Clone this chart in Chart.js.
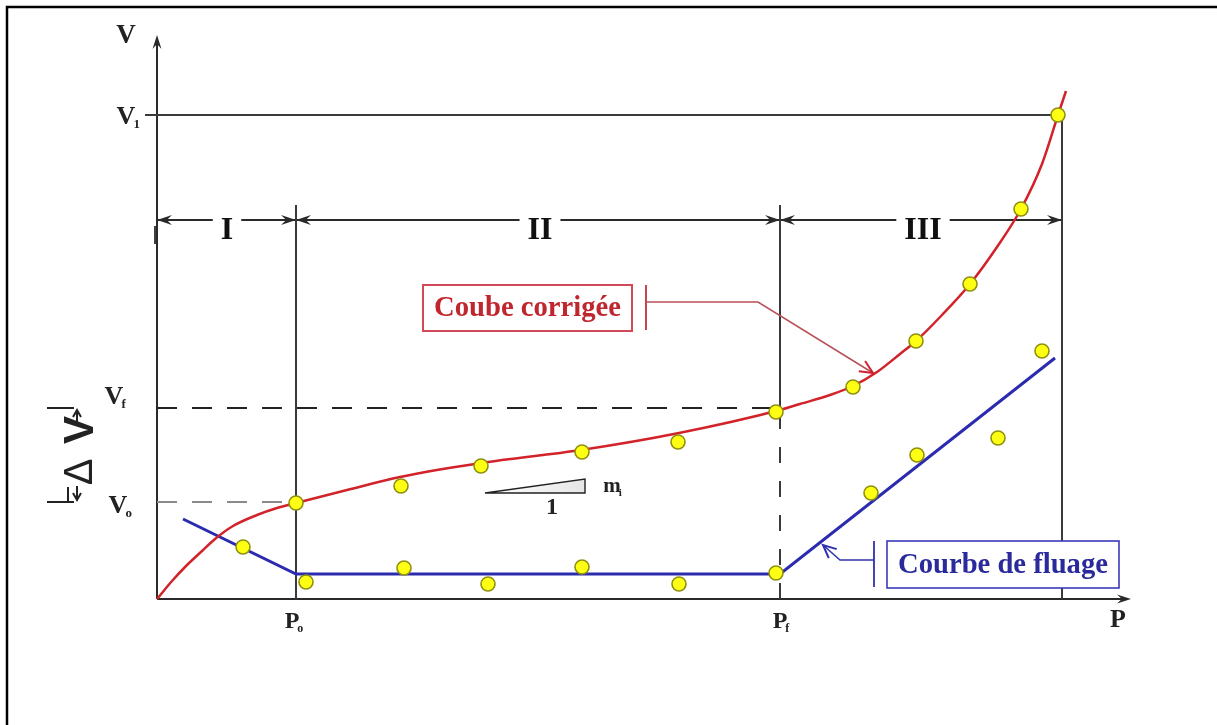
<!DOCTYPE html>
<html>
<head>
<meta charset="utf-8">
<script src="https://cdn.jsdelivr.net/npm/chart.js@4/dist/chart.umd.min.js"></script>
<style>
html,body{margin:0;padding:0;background:#fff;}
#wrap{width:1217px;height:725px;position:relative;}
canvas{display:block;}
</style>
</head>
<body>
<div id="wrap"><canvas id="c" width="1217" height="725"></canvas></div>
<script>
// ---- Key levels (schematic units) ----
const P0 = 1.39, Pf = 6.23, P1 = 9.05;
const V0 = 0.97, Vf = 1.91, V1 = 4.84;
const P_MAX = 9.74, V_MAX = 5.64;
const ZONE_V = 3.79;

// ---- Tick labels ----
const xTickValues = [P0, Pf];
const xTickLabels = [['P', 'o'], ['P', 'f']];
const yTickValues = [V0, Vf, V1];
const yTickLabels = [['V', 'o'], ['V', 'f'], ['V', '1']];
const zoneLabels = ['I', 'II', 'III'];
const zoneBounds = [0, P0, Pf, P1];

// ---- Corrected curve (Coube corrigée) ----
const redCurveP = [0, 0.15, 0.30, 0.45, 0.58, 0.76, 1.0, 1.2, 1.39, 1.9, 2.43, 3.24, 4.24, 5.22, 6.23, 6.43, 6.73, 6.96, 7.2, 7.43, 7.59, 7.85, 8.13, 8.4, 8.64, 8.85, 9.01, 9.09];
const redCurveV = [0, 0.18, 0.34, 0.48, 0.60, 0.73, 0.84, 0.91, 0.96, 1.09, 1.22, 1.36, 1.49, 1.66, 1.89, 1.95, 2.04, 2.13, 2.27, 2.45, 2.58, 2.84, 3.15, 3.52, 3.90, 4.35, 4.84, 5.08];
const redDotsP = [1.39, 2.44, 3.24, 4.25, 5.21, 6.19, 6.96, 7.59, 8.13, 8.64, 9.01];
const redDotsV = [0.96, 1.13, 1.33, 1.47, 1.57, 1.87, 2.12, 2.58, 3.15, 3.90, 4.84];

// ---- Creep curve (Courbe de fluage) ----
const blueLineP = [0.26, 1.39, 6.23, 8.98];
const blueLineV = [0.80, 0.25, 0.25, 2.41];
const blueDotsP = [0.86, 1.49, 2.47, 3.31, 4.25, 5.22, 6.19, 7.14, 7.60, 8.41, 8.85];
const blueDotsV = [0.52, 0.17, 0.31, 0.15, 0.32, 0.15, 0.26, 1.06, 1.44, 1.61, 2.48];

const zip = (a, b) => a.map((v, i) => ({x: v, y: b[i]}));
const seg = (pts) => pts.map(p => ({x: p[0], y: p[1]}));

const SERIF = '"Liberation Serif", "DejaVu Serif", serif';
const SANS = '"Liberation Sans", "DejaVu Sans", sans-serif';

function head(ctx, x, y, ang, len, half) {
  ctx.save();
  ctx.translate(x, y);
  ctx.rotate(ang);
  ctx.beginPath();
  ctx.moveTo(0, 0);
  ctx.lineTo(-len, -half);
  ctx.lineTo(-len * 0.65, 0);
  ctx.lineTo(-len, half);
  ctx.closePath();
  ctx.fill();
  ctx.restore();
}
function openHead(ctx, x, y, ang, len, half) {
  ctx.save();
  ctx.translate(x, y);
  ctx.rotate(ang);
  ctx.beginPath();
  ctx.moveTo(-len, -half);
  ctx.lineTo(0, 0);
  ctx.lineTo(-len, half);
  ctx.stroke();
  ctx.restore();
}
function subLabel(ctx, main, sub, cx, cy, size, color, weight) {
  weight = weight || 'bold';
  ctx.save();
  ctx.fillStyle = color;
  ctx.textAlign = 'left';
  ctx.textBaseline = 'alphabetic';
  ctx.font = `${weight} ${size}px ${SERIF}`;
  const w1 = ctx.measureText(main).width;
  const x0 = cx - w1 / 2;
  const base = cy + size * 0.33;
  ctx.fillText(main, x0, base);
  ctx.font = `${weight} ${Math.round(size * 0.5)}px ${SERIF}`;
  ctx.fillText(sub, x0 + w1 - 2, base + size * 0.18);
  ctx.restore();
}
function fitFont(ctx, text, weight, family, target) {
  ctx.font = `${weight} 20px ${family}`;
  const w = ctx.measureText(text).width;
  return 20 * target / w;
}

const annotate = {
  id: 'annotate',
  beforeDraw(chart) {
    const ctx = chart.ctx;
    ctx.save();
    ctx.fillStyle = '#fff';
    ctx.fillRect(0, 0, chart.width, chart.height);
    // outer frame (top + left)
    ctx.strokeStyle = '#000';
    ctx.lineWidth = 2.5;
    ctx.beginPath();
    ctx.moveTo(7, chart.height);
    ctx.lineTo(7, 7);
    ctx.lineTo(chart.width, 7);
    ctx.stroke();
    ctx.restore();
  },
  beforeDatasetsDraw(chart) {
    const ctx = chart.ctx;
    const xs = chart.scales.x, ys = chart.scales.y;
    const X = v => xs.getPixelForValue(v), Y = v => ys.getPixelForValue(v);
    ctx.save();
    // axes
    ctx.strokeStyle = '#2a2a2a';
    ctx.fillStyle = '#2a2a2a';
    ctx.lineWidth = 2;
    ctx.beginPath();
    ctx.moveTo(X(0), Y(0));
    ctx.lineTo(X(0), Y(V_MAX) + 4);
    ctx.moveTo(X(0), Y(0));
    ctx.lineTo(X(P_MAX) - 4, Y(0));
    ctx.stroke();
    head(ctx, X(0), Y(V_MAX), -Math.PI / 2, 14, 4.5);
    head(ctx, X(P_MAX), Y(0), 0, 14, 4.5);

    // zone dimension line
    const zy = Y(ZONE_V);
    ctx.lineWidth = 1.8;
    ctx.beginPath();
    ctx.moveTo(X(zoneBounds[0]), zy);
    ctx.lineTo(X(zoneBounds[3]), zy);
    ctx.stroke();
    ctx.beginPath();
    ctx.moveTo(X(0) - 2, zy + 6);
    ctx.lineTo(X(0) - 2, zy + 24);
    ctx.stroke();
    for (let i = 0; i < 3; i++) {
      head(ctx, X(zoneBounds[i]), zy, Math.PI, 15, 5);
      head(ctx, X(zoneBounds[i + 1]), zy, 0, 15, 5);
    }
    ctx.font = `bold 32px ${SERIF}`;
    ctx.textAlign = 'center';
    ctx.textBaseline = 'alphabetic';
    for (let i = 0; i < 3; i++) {
      const cx = (i === 0) ? X(0.70) : (i === 1 ? X(3.83) : X(7.66));
      const w = ctx.measureText(zoneLabels[i]).width;
      ctx.fillStyle = '#fff';
      ctx.fillRect(cx - w / 2 - 8, zy - 6, w + 16, 12);
      ctx.fillStyle = '#111';
      ctx.fillText(zoneLabels[i], cx, zy + 19);
    }

    // slope triangle
    const grad = ctx.createLinearGradient(X(3.28), 0, X(4.28), 0);
    grad.addColorStop(0, '#ffffff');
    grad.addColorStop(1, '#e6e6e6');
    ctx.fillStyle = grad;
    ctx.strokeStyle = '#222';
    ctx.lineWidth = 1.4;
    ctx.beginPath();
    ctx.moveTo(X(3.28), Y(1.06));
    ctx.lineTo(X(4.28), Y(1.06));
    ctx.lineTo(X(4.28), Y(1.20));
    ctx.closePath();
    ctx.fill();
    ctx.stroke();
    ctx.fillStyle = '#222';
    ctx.font = `bold 24px ${SERIF}`;
    ctx.textAlign = 'center';
    ctx.fillText('1', X(3.95), Y(0.93) + 8);
    subLabel(ctx, 'm', 'i', X(4.46) + 9, Y(1.14), 21, '#222', '600');
    ctx.restore();
  },
  afterDatasetsDraw(chart) {
    const ctx = chart.ctx;
    const xs = chart.scales.x, ys = chart.scales.y;
    const X = v => xs.getPixelForValue(v), Y = v => ys.getPixelForValue(v);
    ctx.save();

    // axis titles + tick labels
    subLabel(ctx, 'V', '', X(0) - 31, Y(V_MAX) - 1, 27, '#222');
    subLabel(ctx, 'P', '', X(P_MAX) - 13, Y(0) + 19, 26, '#222');
    const yDy = [2, -13, 0];
    const yDx = [-39, -43, -31];
    yTickValues.forEach((v, i) => subLabel(ctx, yTickLabels[i][0], yTickLabels[i][1], X(0) + yDx[i], Y(v) + yDy[i], 26, '#222'));
    const xDx = [-4, 0];
    xTickValues.forEach((v, i) => subLabel(ctx, xTickLabels[i][0], xTickLabels[i][1], X(v) + xDx[i], Y(0) + 21, 24, '#222'));

    // Delta V dimension marker
    ctx.strokeStyle = '#222';
    ctx.fillStyle = '#222';
    ctx.lineWidth = 2;
    ctx.beginPath();
    ctx.moveTo(47, Y(Vf)); ctx.lineTo(74, Y(Vf));
    ctx.moveTo(47, Y(V0)); ctx.lineTo(74, Y(V0));
    ctx.moveTo(68, Y(V0) - 15); ctx.lineTo(68, Y(V0));
    ctx.moveTo(77, Y(Vf) + 16); ctx.lineTo(77, Y(Vf) + 3);
    ctx.moveTo(77, Y(V0) - 16); ctx.lineTo(77, Y(V0) - 3);
    ctx.stroke();
    openHead(ctx, 77, Y(Vf) + 2, -Math.PI / 2, 7, 4);
    openHead(ctx, 77, Y(V0) - 2, Math.PI / 2, 7, 4);
    ctx.save();
    ctx.translate(78, (Y(Vf) + Y(V0)) / 2);
    ctx.rotate(-Math.PI / 2);
    ctx.textAlign = 'center';
    ctx.textBaseline = 'alphabetic';
    ctx.font = `normal 40px ${SANS}`;
    ctx.fillText('Δ', -17, 14);
    ctx.font = `bold 42px ${SANS}`;
    ctx.fillText('V', 25, 15);
    ctx.restore();

    // "Coube corrigée" callout
    const rx0 = X(2.66), rx1 = X(4.75), ry0 = Y(3.14), ry1 = Y(2.68);
    ctx.fillStyle = '#fff';
    ctx.fillRect(rx0, ry0, rx1 - rx0, ry1 - ry0);
    ctx.strokeStyle = '#d24a5a';
    ctx.lineWidth = 2;
    ctx.strokeRect(rx0, ry0, rx1 - rx0, ry1 - ry0);
    ctx.fillStyle = '#c0262e';
    const rs = fitFont(ctx, 'Coube corrigée', 'bold', SERIF, 187);
    ctx.font = `bold ${rs}px ${SERIF}`;
    ctx.textAlign = 'center';
    ctx.textBaseline = 'middle';
    ctx.fillText('Coube corrigée', (rx0 + rx1) / 2, (ry0 + ry1) / 2 + 1);
    ctx.strokeStyle = '#c0303a';
    ctx.lineWidth = 1.8;
    ctx.beginPath();
    ctx.moveTo(X(4.89), Y(3.14)); ctx.lineTo(X(4.89), Y(2.69));
    ctx.stroke();
    ctx.strokeStyle = '#b85058';
    ctx.lineWidth = 1.5;
    ctx.beginPath();
    ctx.moveTo(X(4.89), Y(2.97));
    ctx.lineTo(X(6.01), Y(2.97));
    ctx.lineTo(X(7.16), Y(2.26));
    ctx.stroke();
    ctx.strokeStyle = '#d02030';
    ctx.lineWidth = 2;
    openHead(ctx, X(7.16), Y(2.26), Math.atan2(Y(2.26) - Y(2.97), X(7.16) - X(6.01)), 13, 6);

    // "Courbe de fluage" callout
    const bx0 = X(7.30), bx1 = X(9.62), by0 = Y(0.58), by1 = Y(0.11);
    ctx.fillStyle = '#fff';
    ctx.fillRect(bx0, by0, bx1 - bx0, by1 - by0);
    ctx.strokeStyle = '#3a3ab8';
    ctx.lineWidth = 1.6;
    ctx.strokeRect(bx0, by0, bx1 - bx0, by1 - by0);
    ctx.fillStyle = '#2a2a9c';
    const bs = fitFont(ctx, 'Courbe de fluage', 'bold', SERIF, 210);
    ctx.font = `bold ${bs}px ${SERIF}`;
    ctx.fillText('Courbe de fluage', (bx0 + bx1) / 2, (by0 + by1) / 2 + 1);
    ctx.strokeStyle = '#3030b0';
    ctx.lineWidth = 1.8;
    ctx.beginPath();
    ctx.moveTo(X(7.17), Y(0.58)); ctx.lineTo(X(7.17), Y(0.12));
    ctx.stroke();
    ctx.lineWidth = 1.5;
    ctx.beginPath();
    ctx.moveTo(X(7.17), Y(0.39));
    ctx.lineTo(X(6.83), Y(0.39));
    ctx.lineTo(X(6.66), Y(0.54));
    ctx.stroke();
    ctx.lineWidth = 2;
    openHead(ctx, X(6.66), Y(0.54), Math.atan2(Y(0.54) - Y(0.39), X(6.66) - X(6.83)), 13, 6);
    ctx.restore();
  }
};

const refStyle = {showLine: true, pointRadius: 0, borderColor: '#3a3a3a', borderWidth: 2, fill: false, clip: false, order: 3};

new Chart(document.getElementById('c'), {
  type: 'scatter',
  data: {
    datasets: [
      {label: 'points corrigés', data: zip(redDotsP, redDotsV), pointRadius: 7, pointBackgroundColor: '#ffff14', pointBorderColor: '#8f8f10', pointBorderWidth: 1.6, showLine: false, clip: false, order: 0},
      {label: 'points fluage', data: zip(blueDotsP, blueDotsV), pointRadius: 7, pointBackgroundColor: '#ffff14', pointBorderColor: '#8f8f10', pointBorderWidth: 1.6, showLine: false, clip: false, order: 0},
      {label: 'Coube corrigée', data: zip(redCurveP, redCurveV), showLine: true, pointRadius: 0, borderColor: '#d2232a', borderWidth: 2.5, cubicInterpolationMode: 'monotone', clip: false, order: 1},
      {label: 'Courbe de fluage', data: zip(blueLineP, blueLineV), showLine: true, pointRadius: 0, borderColor: '#2b2bb0', borderWidth: 3, tension: 0, clip: false, order: 1},
      Object.assign({label: 'V1', data: seg([[-0.12, V1], [P1, V1]])}, refStyle),
      Object.assign({label: 'P1', data: seg([[P1, 0], [P1, V1]])}, refStyle),
      Object.assign({label: 'P0', data: seg([[P0, 0], [P0, ZONE_V + 0.15]])}, refStyle),
      Object.assign({label: 'Pf', data: seg([[Pf, Vf], [Pf, ZONE_V + 0.15]])}, refStyle),
      Object.assign({label: 'Pf dash', data: seg([[Pf, 0], [Pf, Vf]])}, refStyle, {borderDash: [16, 18]}),
      Object.assign({label: 'Vf dash', data: seg([[0, Vf], [Pf, Vf]])}, refStyle, {borderDash: [20, 15], borderColor: '#222'}),
      Object.assign({label: 'V0 dash', data: seg([[0, V0], [P0, V0]])}, refStyle, {borderDash: [20, 15], borderColor: '#8a8a8a'})
    ]
  },
  options: {
    responsive: false,
    devicePixelRatio: 1,
    animation: false,
    layout: {padding: {left: 157, right: 86, top: 35, bottom: 126}},
    scales: {
      x: {type: 'linear', min: 0, max: P_MAX, display: false},
      y: {type: 'linear', min: 0, max: V_MAX, display: false}
    },
    plugins: {legend: {display: false}, tooltip: {enabled: false}}
  },
  plugins: [annotate]
});
</script>
</body>
</html>
